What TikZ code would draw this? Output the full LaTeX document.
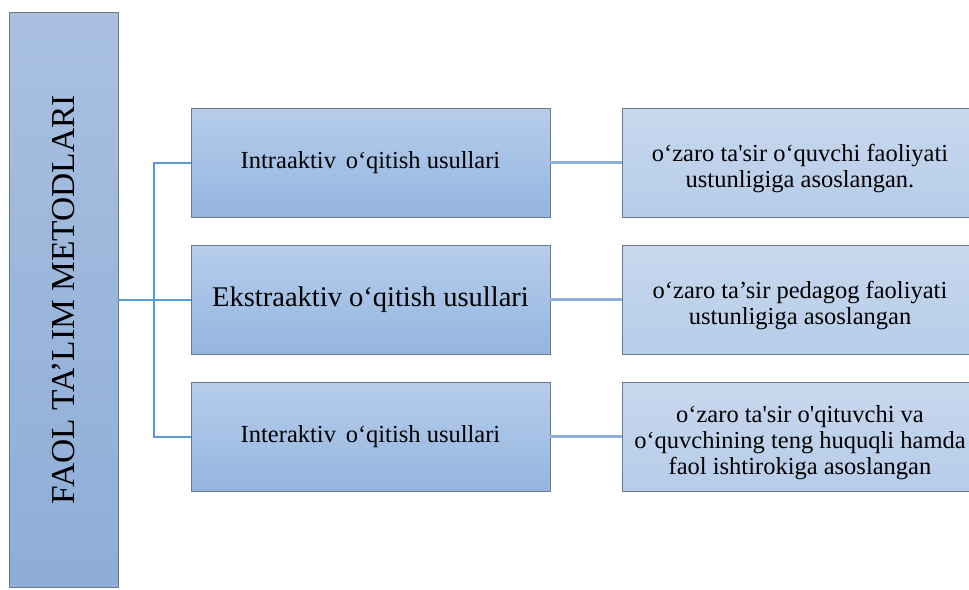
\documentclass[tikz,border=0pt]{standalone}
\usepackage{fontspec}
\setmainfont{Liberation Serif}[Ligatures=TeXOff]
\usetikzlibrary{calc}

\definecolor{edgegray}{HTML}{6B7B8F}
\definecolor{treeblue}{HTML}{5B9BD5}
\definecolor{linkblue}{HTML}{8DB0DD}
\definecolor{maintop}{RGB}{169,192,224}
\definecolor{mainbot}{RGB}{142,173,215}
\definecolor{methtop}{RGB}{182,205,234}
\definecolor{methbot}{RGB}{148,181,224}
\definecolor{notetop}{RGB}{200,216,238}
\definecolor{notebot}{RGB}{182,204,233}

\tikzset{
  mainbox/.style={draw=edgegray, top color=maintop, bottom color=mainbot, minimum width=109pt, minimum height=575pt, inner sep=0pt},
  methodbox/.style={draw=edgegray, top color=methtop, bottom color=methbot, minimum width=359pt, minimum height=109pt, font=\fontsize{24.5}{26}\selectfont},
  notebox/.style={draw=edgegray, top color=notetop, bottom color=notebot, minimum width=356pt, minimum height=109pt, align=center, font=\fontsize{24.5}{26}\selectfont, inner sep=1pt},
  tree/.style={treeblue, line width=2pt},
  link/.style={linkblue, line width=2.5pt}
}

\begin{document}
\begin{tikzpicture}[x=1pt,y=-1pt]
\clip (0,0) rectangle (969,589);
\fill[white] (0,0) rectangle (969,589);

\node[mainbox] (main) at (63.5,299.5) {\fontsize{33.5}{36}\selectfont\rotatebox{90}{FAOL TA’LIM METODLARI}};

\node[methodbox] (intra) at (370.5,162.5) {Intraaktiv\hspace{0.4em}o‘qitish usullari};
\node[methodbox, font=\fontsize{28.5}{30}\selectfont] (ekstra) at (370.5,299.5) {Ekstraaktiv o‘qitish usullari};
\node[methodbox] (inter) at (370.5,436.5) {Interaktiv\hspace{0.4em}o‘qitish usullari};

\node[notebox] (n1) at (800,162.5) {\rule{0pt}{30pt}o‘zaro ta'sir o‘quvchi faoliyati\\ustunligiga asoslangan.};
\node[notebox] (n2) at (800,299.5) {\rule{0pt}{30pt}o‘zaro ta’sir pedagog faoliyati\\ustunligiga asoslangan};
\node[notebox] (n3) at (800,436.5) {\rule{0pt}{30pt}o‘zaro ta'sir o'qituvchi va\\o‘quvchining teng huquqli hamda\\faol ishtirokiga asoslangan};

% tree from the main box
\coordinate (split) at (154,299.5);
\draw[tree] (main.east) -- (ekstra.west);
\draw[tree] (intra.west) -| (split) |- (inter.west);

% links to the notes
\draw[link] (intra.east) -- (n1.west);
\draw[link] (ekstra.east) -- (n2.west);
\draw[link] (inter.east) -- (n3.west);
\end{tikzpicture}
\end{document}
